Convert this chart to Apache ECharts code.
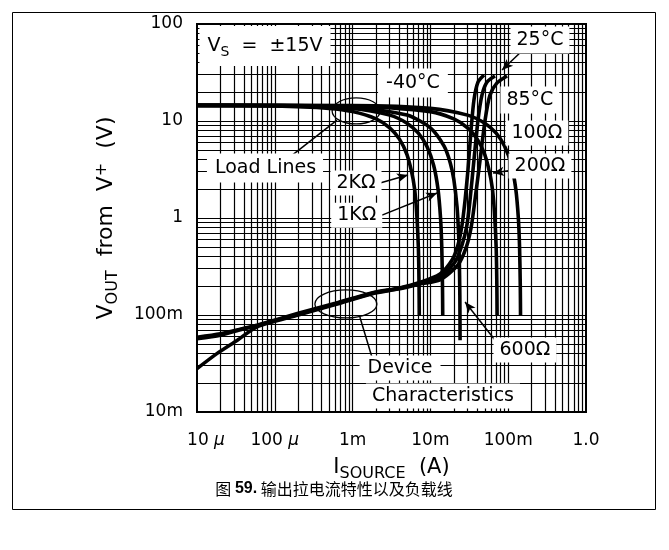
<!DOCTYPE html>
<html><head><meta charset="utf-8">
<script src="https://cdn.jsdelivr.net/npm/echarts@6/dist/echarts.min.js"></script>
<style>html,body{margin:0;padding:0;background:#fff}#c{width:669px;height:550px}</style>
</head><body><div id="c"></div>
<script>
// ---- axis ticks ----
const xTickLabels = ['{p|10 }{it|μ}', '100 {it|μ}', '1m', '10m', '100m', '1.0'];
const yTickLabels = ['10m', '100m', '1', '10', '100'];
const xDecades = [1e-5, 1e-4, 1e-3, 1e-2, 1e-1, 1];
const yDecades = [0.01, 0.1, 1, 10, 100];
const gridMultipliers = [1, 2, 3, 4, 5, 6, 7, 8, 9];

// ---- device characteristics (I in A, V in V) ----
const devAI = [1e-5, 2e-5, 3.5e-5, 6e-5, 2e-4, 6e-4, 1.8e-3, 4e-3, 7.3e-3, 1.33e-2, 1.9e-2, 2.26e-2, 2.55e-2, 2.79e-2, 3.04e-2, 3.33e-2, 3.63e-2, 4.09e-2, 4.89e-2];
const devAV = [0.059, 0.064, 0.071, 0.079, 0.104, 0.132, 0.170, 0.190, 0.216, 0.265, 0.369, 0.527, 0.847, 1.53, 3.13, 8.07, 16.5, 25.2, 29.8];
const devBI = [1e-5, 2e-5, 3.5e-5, 6e-5, 2e-4, 6e-4, 1.8e-3, 4e-3, 7.3e-3, 1.33e-2, 2.07e-2, 2.55e-2, 2.95e-2, 3.23e-2, 3.63e-2, 4.09e-2, 4.6e-2, 5.35e-2, 6.76e-2];
const devBV = [0.057, 0.062, 0.070, 0.078, 0.102, 0.130, 0.168, 0.188, 0.212, 0.246, 0.352, 0.527, 0.847, 1.53, 3.96, 10.2, 18.5, 25.2, 29.1];
const devCI = [1e-5, 1.8e-5, 3.3e-5, 6e-5, 2e-4, 6e-4, 1.8e-3, 4e-3, 7.3e-3, 1.33e-2, 2.26e-2, 2.87e-2, 3.33e-2, 3.74e-2, 4.35e-2, 5.04e-2, 5.83e-2, 7.18e-2, 9.66e-2];
const devCV = [0.028, 0.040, 0.055, 0.076, 0.100, 0.128, 0.166, 0.186, 0.209, 0.230, 0.328, 0.491, 0.789, 1.53, 3.96, 10.2, 18.5, 24.7, 29.1];

// ---- load lines ----
const load2kI = [1e-5, 1e-4, 5e-4, 1e-3, 2e-3, 3e-3, 4e-3, 5e-3, 6e-3, 6.5e-3, 7e-3, 7.15e-3, 7.2e-3];
const load2kV = [14.48, 14.3, 13.5, 12.5, 10.5, 8.5, 6.5, 4.5, 2.5, 1.5, 0.5, 0.2, 0.1];
const load1kI = [1e-5, 1e-4, 1e-3, 3e-3, 5e-3, 7e-3, 9e-3, 1.1e-2, 1.25e-2, 1.35e-2, 1.4e-2, 1.43e-2, 1.44e-2];
const load1kV = [14.49, 14.4, 13.5, 11.5, 9.5, 7.5, 5.5, 3.5, 2.0, 1.0, 0.5, 0.2, 0.1];
const load600I = [1e-5, 1e-4, 1e-3, 5e-3, 1e-2, 1.5e-2, 1.8e-2, 2e-2, 2.2e-2, 2.3e-2, 2.35e-2, 2.39e-2, 2.407e-2];
const load600V = [14.49, 14.44, 13.9, 11.5, 8.5, 5.5, 3.7, 2.5, 1.3, 0.7, 0.4, 0.16, 0.055];
const load200I = [1e-5, 1e-3, 1e-2, 2e-2, 3e-2, 4e-2, 5e-2, 6e-2, 6.5e-2, 7e-2, 7.15e-2, 7.2e-2];
const load200V = [14.5, 14.3, 12.5, 10.5, 8.5, 6.5, 4.5, 2.5, 1.5, 0.5, 0.2, 0.1];
const load100I = [1e-5, 1e-3, 1e-2, 3e-2, 5e-2, 7e-2, 9e-2, 0.11, 0.125, 0.135, 0.14, 0.143, 0.144];
const load100V = [14.5, 14.4, 13.5, 11.5, 9.5, 7.5, 5.5, 3.5, 2.0, 1.0, 0.5, 0.2, 0.1];

// ---- annotations (anchor in data coords) ----
const labelTexts = ['{v|V}{sub|S}{v|  =  ±15V}', 'Load Lines', '-40°C', '25°C', '85°C', '100Ω', '200Ω', '2KΩ', '1KΩ', '600Ω', 'Device', 'Characteristics'];
const labelI = [7.48e-5, 7.48e-5, 5.97e-3, 0.256, 0.19, 0.234, 0.256, 1.106e-3, 1.13e-3, 0.164, 4.07e-3, 1.45e-2];
const labelV = [59.3, 3.27, 24.6, 68.4, 16.5, 7.52, 3.44, 2.30, 1.07, 0.0436, 0.0284, 0.0146];
const labelPad = [[9,8,9,8],[5,7,5,8],[5,8,5,8],[4,6,4,6],[4,6,4,6],[3,6,3,6],[3,6,3,6],[3,6,3,6],[3,6,3,6],[3,6,3,6],[4,8,2,8],[2,6,4,6]];

const arrowFrom = [[0.155, 54], [0.138, 7.17], [0.1745, 3.28], [2.25e-3, 2.30], [2.39e-3, 1.07], [0.0676, 0.0552]];
const arrowTo = [[0.0832, 33.6], [0.0937, 7.88], [0.0638, 2.91], [5.15e-3, 2.77], [1.22e-2, 1.81], [0.0279, 0.136]];
const leaderFrom = [[1.57e-4, 4.26], [1.24e-3, 0.0953]];
const leaderTo = [[6.3e-4, 10.2], [1.77e-3, 0.0369]];
const ellipseCenters = [[1.11e-3, 12.7], [8.2e-4, 0.13]];
const ellipseRadii = [[24, 13], [31, 14]];

function pairs(I, V) { return I.map((x, i) => [x, V[i]]); }
function gridVals(decs) {
  const out = [];
  decs.forEach((d, i) => gridMultipliers.forEach(m => { if (i < decs.length - 1 && !(i === 0 && m === 1)) out.push(d * m); }));
  return out;
}
const xMin = xDecades[0], xMax = xDecades[xDecades.length - 1];
const yMin = yDecades[0], yMax = yDecades[yDecades.length - 1];

const FONT = 'DejaVu Sans';
const chart = echarts.init(document.getElementById('c'));

const curveSeries = [
  ['-40°C', devAI, devAV], ['25°C', devBI, devBV], ['85°C', devCI, devCV],
  ['2K', load2kI, load2kV], ['1K', load1kI, load1kV], ['600', load600I, load600V],
  ['200', load200I, load200V], ['100', load100I, load100V]
].map(([n, I, V]) => ({
  type: 'line', name: n, data: pairs(I, V), showSymbol: false, smooth: 0.25, z: 3,
  lineStyle: { color: '#000', width: 3.6 }, emphasis: { disabled: true }, silent: true
}));

const option = {
  animation: false,
  backgroundColor: '#fff',
  textStyle: { fontFamily: FONT, color: '#000' },
  grid: { left: 197, right: 83, top: 24, bottom: 138, show: true, borderColor: '#000', borderWidth: 2, backgroundColor: 'transparent' },
  xAxis: {
    type: 'log', logBase: 10, min: xMin, max: xMax,
    splitLine: { show: false }, axisTick: { show: false },
    axisLine: { show: true, lineStyle: { color: '#000', width: 2 } },
    axisLabel: {
      color: '#000', fontFamily: FONT, fontSize: 17, margin: 20, showMinLabel: true, showMaxLabel: true,
      formatter: v => xTickLabels[Math.round(Math.log10(v)) + 5],
      rich: {
        it: { fontStyle: 'italic', fontSize: 17, fontFamily: FONT, color: '#000' },
        p: { fontSize: 17, fontFamily: FONT, color: '#000', padding: [0, 0, 0, 18] }
      }
    },
    name: '{v|I}{sub|SOURCE}{v|  (A)}', nameLocation: 'middle', nameGap: 42,
    nameTextStyle: {
      rich: {
        v: { fontSize: 21, fontFamily: FONT, color: '#000', lineHeight: 22 },
        sub: { fontSize: 16, fontFamily: FONT, color: '#000', lineHeight: 16, padding: [12, 0, 0, 0] }
      }
    }
  },
  yAxis: {
    type: 'log', logBase: 10, min: yMin, max: yMax,
    splitLine: { show: false }, axisTick: { show: false },
    axisLine: { show: true, lineStyle: { color: '#000', width: 2 } },
    axisLabel: {
      color: '#000', fontFamily: FONT, fontSize: 17, margin: 14, showMinLabel: true, showMaxLabel: true,
      formatter: v => yTickLabels[Math.round(Math.log10(v)) + 2]
    },
    name: '{v|V}{sub|OUT}{v|  from  V}{sup|+}{v|  (V)}', nameLocation: 'middle', nameGap: 68, nameRotate: 90,
    nameTextStyle: {
      rich: {
        v: { fontSize: 22, fontFamily: FONT, color: '#000', lineHeight: 24 },
        sub: { fontSize: 16, fontFamily: FONT, color: '#000', lineHeight: 16, padding: [13, 0, 0, 0] },
        sup: { fontSize: 16, fontFamily: FONT, color: '#000', lineHeight: 16, padding: [0, 0, 13, 0], verticalAlign: 'top' }
      }
    }
  },
  series: [
    {
      type: 'line', name: 'grid', data: [], silent: true,
      markLine: {
        silent: true, symbol: 'none', z: 1, animation: false, label: { show: false }, emphasis: { disabled: true },
        lineStyle: { color: '#000', width: 1.2, type: 'solid' },
        data: [
          ...gridVals(xDecades).map(v => [{ coord: [v, yMin] }, { coord: [v, yMax] }]),
          ...gridVals(yDecades).map(v => [{ coord: [xMin, v] }, { coord: [xMax, v] }])
        ]
      }
    },
    ...curveSeries,
    {
      type: 'line', name: 'arrows', data: [], silent: true,
      markLine: {
        silent: true, z: 6, animation: false, label: { show: false }, emphasis: { disabled: true },
        lineStyle: { color: '#000', width: 1.5, type: 'solid' },
        data: [
          ...arrowFrom.map((f, i) => [{ coord: f, symbol: 'none' }, { coord: arrowTo[i], symbol: 'arrow', symbolSize: [7, 11] }]),
          ...leaderFrom.map((f, i) => [{ coord: f, symbol: 'none' }, { coord: leaderTo[i], symbol: 'none' }])
        ]
      }
    }
  ]
};
chart.setOption(option);

const labelRich = {
  v: { fontSize: 19, fontFamily: FONT, color: '#000', lineHeight: 22 },
  sub: { fontSize: 14, fontFamily: FONT, color: '#000', lineHeight: 14, padding: [12, 0, 0, 0] }
};
const graphics = [];
labelTexts.forEach((t, i) => {
  const p = chart.convertToPixel({ gridIndex: 0 }, [labelI[i], labelV[i]]);
  const isRich = t.indexOf('{') === 0;
  graphics.push({
    type: 'text', x: p[0], y: p[1], z: 100, silent: true,
    style: {
      text: t, rich: isRich ? labelRich : undefined,
      font: '19px "DejaVu Sans"', fill: '#000', align: 'center', verticalAlign: 'middle',
      backgroundColor: '#fff', padding: labelPad[i]
    }
  });
});
ellipseCenters.forEach((c, i) => {
  const p = chart.convertToPixel({ gridIndex: 0 }, c);
  graphics.push({
    type: 'ellipse', z: 101, silent: true,
    shape: { cx: p[0], cy: p[1], rx: ellipseRadii[i][0], ry: ellipseRadii[i][1] },
    style: { fill: 'none', stroke: '#000', lineWidth: 1.3 }
  });
});
graphics.push({
  type: 'rect', z: 0, silent: true,
  shape: { x: 12.5, y: 12.5, width: 643, height: 497 },
  style: { fill: 'none', stroke: '#000', lineWidth: 1 }
});
graphics.push({
  type: 'text', x: 334, y: 489, z: 100, silent: true,
  style: {
    text: '{n|图 }{b|59.}{n| 输出拉电流特性以及负载线}', align: 'center', verticalAlign: 'middle',
    rich: {
      n: { fontSize: 16, fontFamily: 'Noto Sans CJK SC', color: '#000' },
      b: { fontSize: 16, fontFamily: 'Liberation Sans', fontWeight: 'bold', color: '#000' }
    }
  }
});
chart.setOption({ graphic: graphics });
</script>
</body></html>
